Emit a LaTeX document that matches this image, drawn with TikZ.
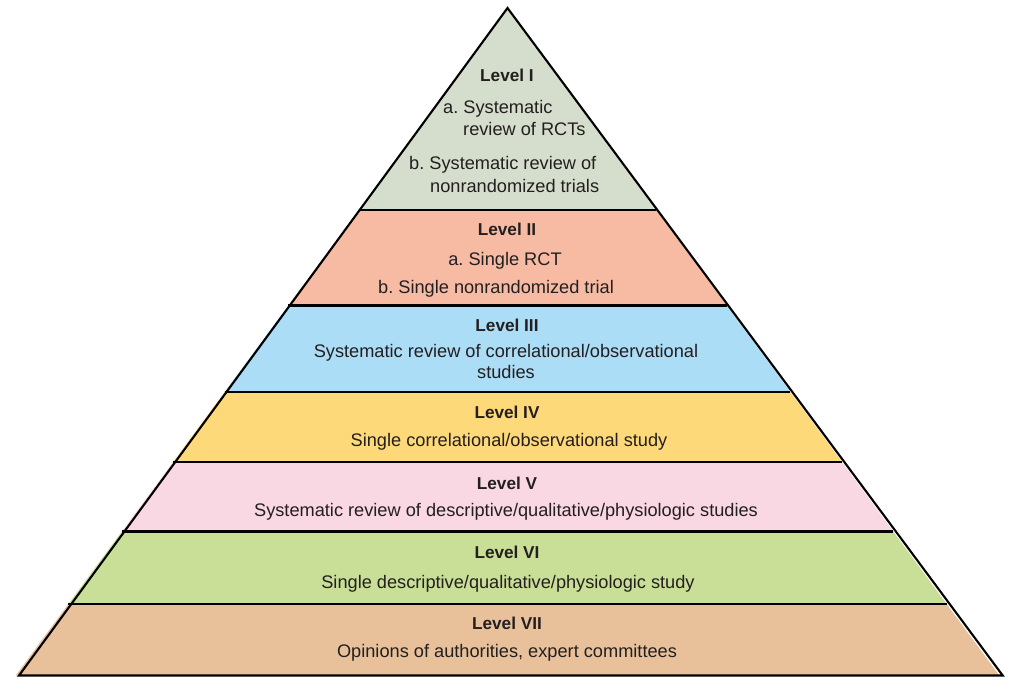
\documentclass[tikz,border=0pt]{standalone}
\usepackage{fontspec}
\setmainfont{Liberation Sans}
\frenchspacing
\definecolor{cI}{HTML}{D5DECC}
\definecolor{cII}{HTML}{F7BBA3}
\definecolor{cIII}{HTML}{ABDDF6}
\definecolor{cIV}{HTML}{FDD97A}
\definecolor{cV}{HTML}{F9D7E3}
\definecolor{cVI}{HTML}{C9DF97}
\definecolor{cVII}{HTML}{E8C19B}
\definecolor{txt}{HTML}{231F20}
\begin{document}
\begin{tikzpicture}[x=1pt,y=-1pt,
  lbl/.style={anchor=base,inner sep=0pt,text=txt,font=\fontsize{18.2}{21}\selectfont},
  lvl/.style={lbl,font=\fontsize{17.2}{20}\selectfont\bfseries},
  lblw/.style={lbl,anchor=base west},
  band/.style={draw=black,line width=2.1pt,line join=miter}]
\useasboundingbox (0,0) rectangle (1024,689);
% apex (507.5,8), base y=675.5 from 19 to 1002.7
\def\ax{507.5}\def\ay{8}\def\by{675.5}
\pgfmathsetmacro{\hw}{491.85}% half-width at base
\newcommand{\lx}[1]{\ax-(#1-\ay)/(\by-\ay)*\hw}
\newcommand{\rx}[1]{\ax+(#1-\ay)/(\by-\ay)*\hw}
\foreach \ya/\yb/\c in {8/210/cI,210/305.5/cII,305.5/392/cIII,392/462/cIV,462/531.5/cV,531.5/604/cVI,604/675.5/cVII}{
  \pgfmathsetmacro{\xa}{\lx{\ya}}\pgfmathsetmacro{\xb}{\rx{\ya}}
  \pgfmathsetmacro{\xc}{\rx{\yb}}\pgfmathsetmacro{\xd}{\lx{\yb}}
  \fill[\c] (\xa,\ya) -- (\xb,\ya) -- (\xc,\yb) -- (\xd,\yb) -- cycle;
}
\foreach \y in {210,305.5,392,462,531.5,604}{
  \pgfmathsetmacro{\xa}{\lx{\y}}\pgfmathsetmacro{\xb}{\rx{\y}}
  \draw[band] (\xa,\y) -- (\xb,\y);
}
\draw[band] (\ax,\ay) -- (1002.7,\by) -- (19,\by) -- cycle;
% texts
\node[lvl] (l1) at (507,81) {Level I};
\node[lblw] (l1a) at (443,113) {a. Systematic};
\node[lblw] (l1b) at (463,135) {review of RCTs};
\node[lblw] (l1c) at (409,169) {b. Systematic review of};
\node[lblw] (l1d) at (430,192) {nonrandomized trials};
\node[lvl] (l2) at (507,235) {Level II};
\node[lbl] (l2a) at (505,265) {a. Single RCT};
\node[lbl] (l2b) at (496,293) {b. Single nonrandomized trial};
\node[lvl] (l3) at (507,331) {Level III};
\node[lbl] (l3a) at (506,357) {Systematic review of correlational/observational};
\node[lbl] (l3b) at (506,378) {studies};
\node[lvl] (l4) at (507,418) {Level IV};
\node[lbl] (l4a) at (509,446) {Single correlational/observational study};
\node[lvl] (l5) at (507,489) {Level V};
\node[lbl] (l5a) at (506,516) {Systematic review of descriptive/qualitative/physiologic studies};
\node[lvl] (l6) at (507,558) {Level VI};
\node[lbl] (l6a) at (508,588) {Single descriptive/qualitative/physiologic study};
\node[lvl] (l7) at (507,629) {Level VII};
\node[lbl] (l7a) at (507,657) {Opinions of authorities, expert committees};
\end{tikzpicture}
\end{document}
